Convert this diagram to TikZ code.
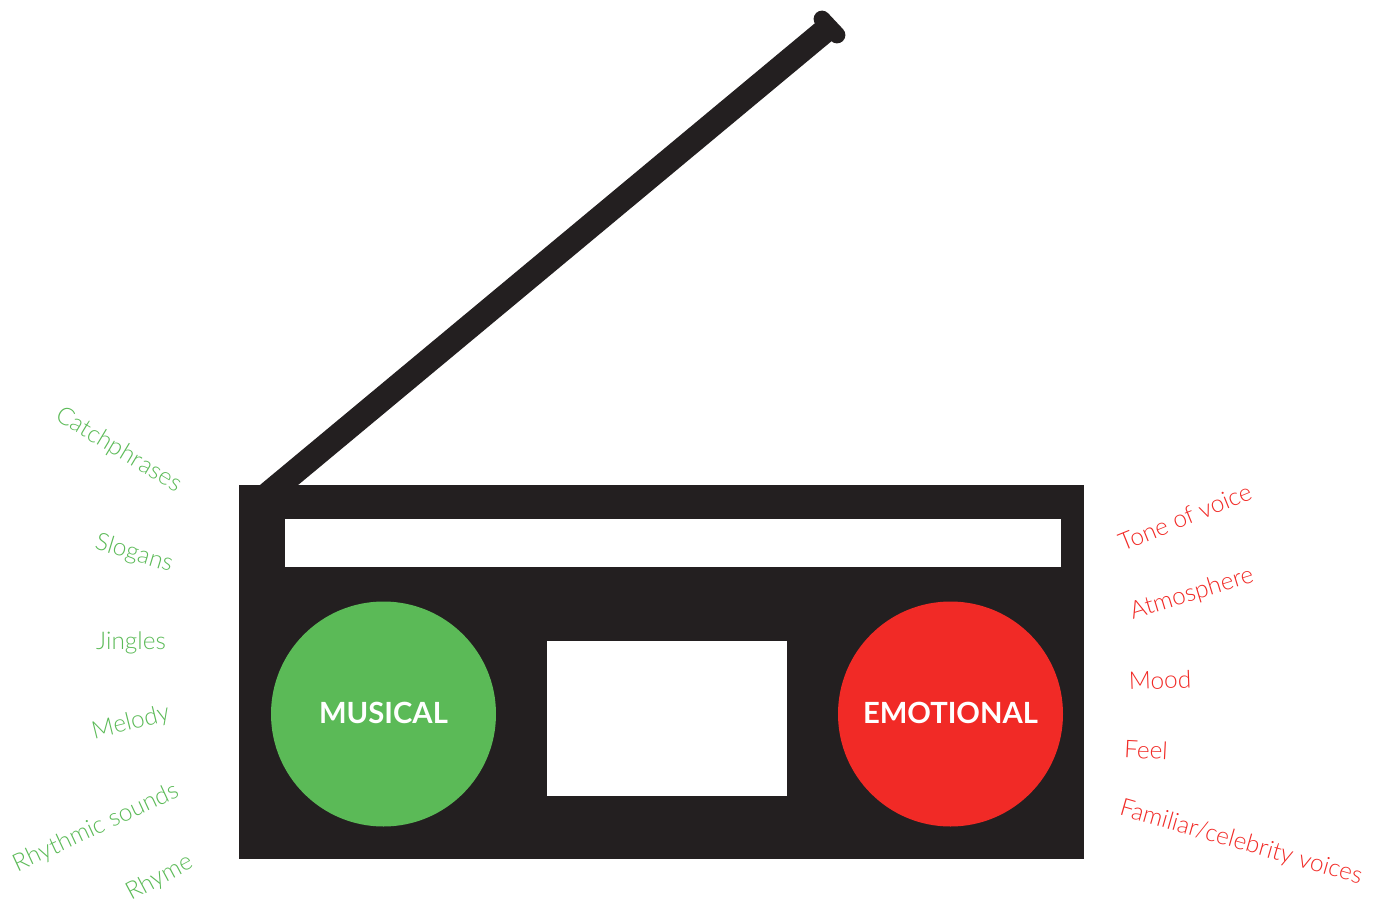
\documentclass[tikz,border=0pt]{standalone}
\usepackage{fontspec}
\setmainfont{Lato}
\newfontfamily\lightfont{Lato Light}
\usetikzlibrary{positioning}
\definecolor{bodycol}{RGB}{35,31,32}
\definecolor{musiccol}{RGB}{91,186,87}
\definecolor{emotecol}{RGB}{241,42,38}
\tikzset{
  panel/.style={rectangle,draw=none,fill=white,inner sep=0pt,outer sep=0pt},
  dial/.style={circle,draw=none,inner sep=0pt,outer sep=0pt,minimum size=112.5pt,
               text=white,font=\fontsize{14.6}{18}\selectfont\bfseries},
  musiclab/.style={text=musiccol,font=\lightfont\fontsize{12.2}{15}\selectfont,inner sep=0pt},
  emotelab/.style={text=emotecol,font=\lightfont\fontsize{12.2}{15}\selectfont,inner sep=0pt},
}
\begin{document}
\begin{tikzpicture}[x=0.5pt,y=-0.5pt]
  \useasboundingbox (0,0) rectangle (1378,901);
  \coordinate (foot) at (255,505);
  \coordinate (tip) at (829.5,27);
  \coordinate (capa) at (822,19);
  \coordinate (capb) at (837,35);
  \draw[bodycol,line width=12.2pt] (foot) -- (tip);
  \draw[bodycol,line width=8.4pt,line cap=round] (capa) -- (capb);
  \node[rectangle,fill=bodycol,inner sep=0pt,outer sep=0pt,minimum width=422.5pt,minimum height=187pt] (body) at (661.5,672) {};
  \node[panel,minimum width=388pt,minimum height=24pt] (screen) at (673,543) {};
  \node[panel,minimum width=120pt,minimum height=77.5pt] (speaker) at (667,718.5) {};
  \node[dial,fill=musiccol] (musical) at (383.5,714) {\raisebox{1pt}{MUSICAL}};
  \node[dial,fill=emotecol] (emotional) at (950.5,714) {\raisebox{1pt}{EMOTIONAL}};
  \node[musiclab,rotate=-31] (catch) at (118.5,450) {Catchphrases};
  \node[musiclab,rotate=-17] (slogans) at (134,554) {Slogans};
  \node[musiclab,rotate=0] (jingles) at (131,643) {Jingles};
  \node[musiclab,rotate=14] (melody) at (131,723) {Melody};
  \node[musiclab,rotate=25] (rhythmic) at (96,828) {Rhythmic sounds};
  \node[musiclab,rotate=28] (rhyme) at (160,878) {Rhyme};
  \node[emotelab,rotate=22] (tone) at (1185,517) {Tone of voice};
  \node[emotelab,rotate=17] (atmos) at (1192,594) {Atmosphere};
  \node[emotelab,rotate=2] (mood) at (1160,680) {Mood};
  \node[emotelab,rotate=-3] (feel) at (1146,750) {Feel};
  \node[emotelab,rotate=-16] (familiar) at (1241,843) {Familiar/celebrity voices};
\end{tikzpicture}
\end{document}
